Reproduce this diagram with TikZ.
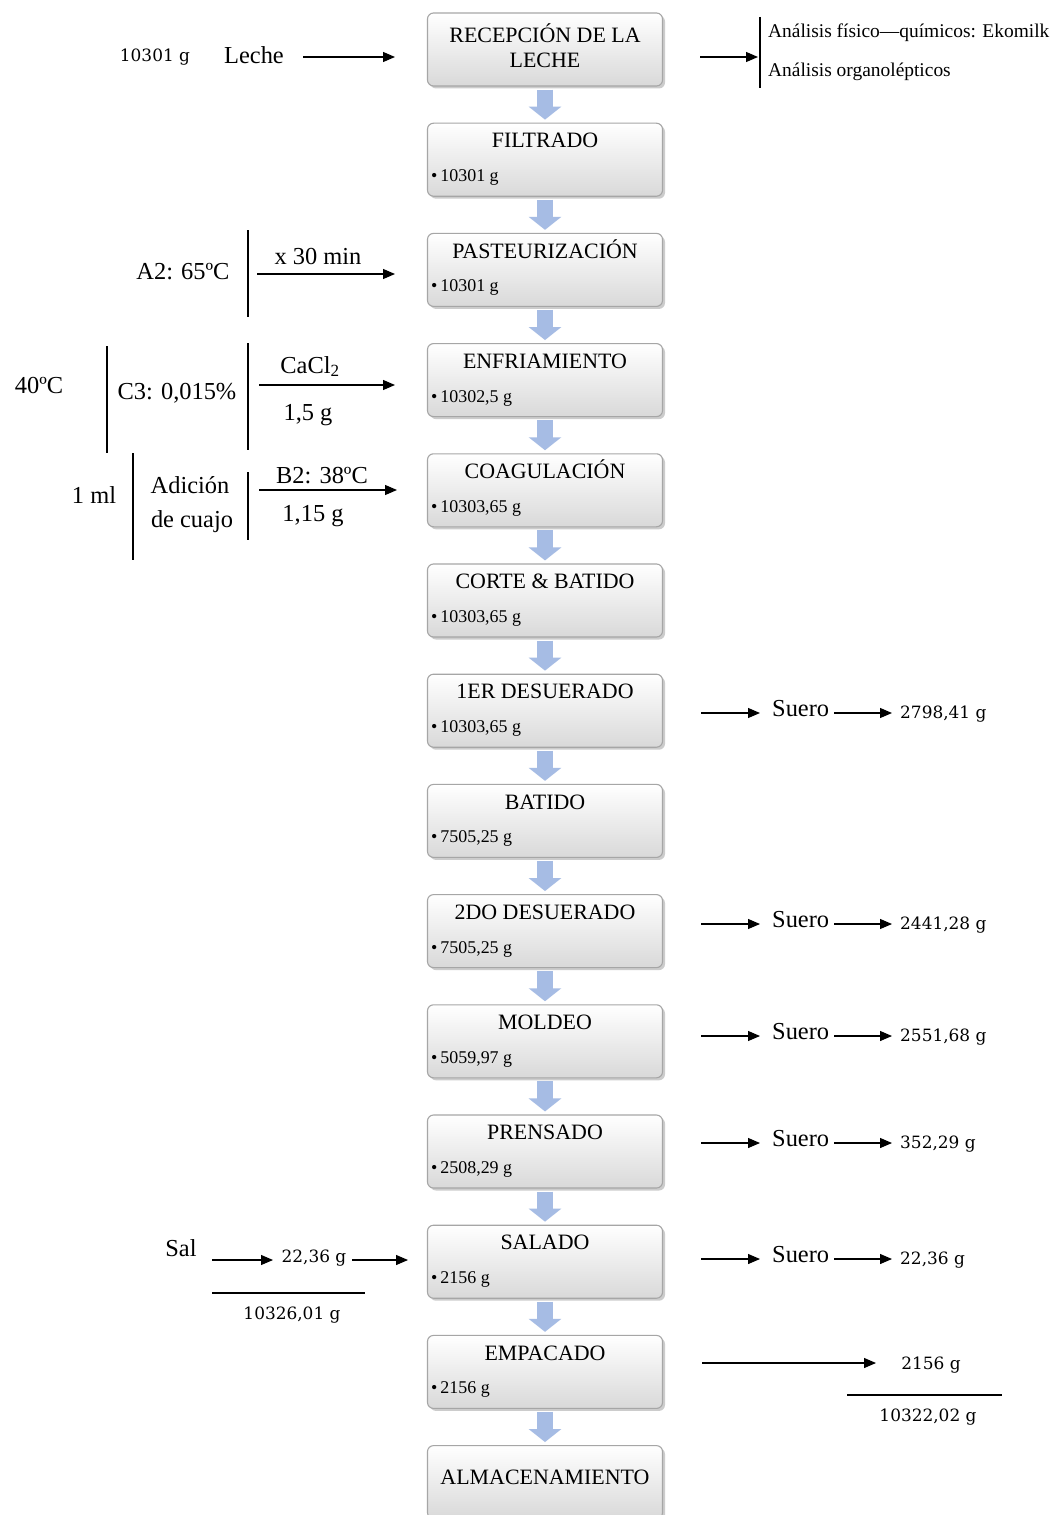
\documentclass[tikz,border=0pt]{standalone}
\usepackage{fontspec}
\setmainfont{Liberation Serif}
\newfontfamily\numfont{DejaVu Serif}
\usetikzlibrary{arrows.meta,calc,shadows}
\definecolor{arrowblue}{RGB}{166,188,228}
\newcommand\hconn[4]{\coordinate (#1a) at (#2,#4); \coordinate (#1b) at (#3,#4); \draw[arr] (#1a) -- (#1b);}
\begin{document}
\begin{tikzpicture}[x=1bp,y=-1bp,
  procbox/.style={rectangle, rounded corners=6bp, minimum width=235bp, minimum height=73bp, draw=gray!70, line width=1.1bp, top color=white, bottom color=gray!30, drop shadow={shadow xshift=2.5bp, shadow yshift=-2.5bp, opacity=0.4}},
  title/.style={inner sep=0pt, font=\fontsize{22}{25}\selectfont, text height=15bp, text depth=4.5bp},
  bul/.style={inner sep=0pt, anchor=west, font=\fontsize{18}{20}\selectfont, text height=12bp, text depth=4bp},
  lab/.style={inner sep=0pt, font=\fontsize{24.5}{27}\selectfont, text height=17bp, text depth=5bp},
  num/.style={inner sep=0pt, font=\numfont\fontsize{17}{19}\selectfont, text height=12.5bp, text depth=3.5bp},
  small/.style={inner sep=0pt, anchor=west, font=\fontsize{19.5}{22}\selectfont, text height=13.5bp, text depth=4bp},
  arr/.style={line width=1.2bp, -{Triangle[length=12bp,width=10bp]}},
  bar/.style={line width=1.3bp},
  flow/.style={line width=16bp, arrowblue, -{Triangle[length=13bp,width=32bp]}, shorten <=3bp, shorten >=3bp}
]
\fill[white] (0,0) rectangle (1053,1515);
\useasboundingbox (0,0) rectangle (1053,1515);

% process boxes
\node[procbox] (p0) at (545,49.5) {};
\node[title] (t0a) at (545,37) {RECEPCIÓN DE LA};
\node[title] (t0b) at (545,62) {LECHE};
\foreach \k/\t/\w in {1/FILTRADO/{10301 g}, 2/PASTEURIZACIÓN/{10301 g}, 3/ENFRIAMIENTO/{10302,5 g},
  4/COAGULACIÓN/{10303,65 g}, 5/CORTE \& BATIDO/{10303,65 g}, 6/1ER DESUERADO/{10303,65 g},
  7/BATIDO/{7505,25 g}, 8/2DO DESUERADO/{7505,25 g}, 9/MOLDEO/{5059,97 g}, 10/PRENSADO/{2508,29 g},
  11/SALADO/{2156 g}, 12/EMPACADO/{2156 g}}{
  \node[procbox] (p\k) at (545, 13+110.2*\k+36.5) {};
  \node[title] (t\k) at ($(p\k.north)+(0,20)$) {\t};
  \node[bul] (w\k) at ($(p\k.north west)+(4,55)$) {•\,\w};
}
\node[procbox] (p13) at (545, 13+110.2*13+36.5) {};
\node[title] (t13) at ($(p13.center)+(0,-3)$) {ALMACENAMIENTO};

\foreach \k in {0,...,12}{
  \pgfmathtruncatemacro\n{\k+1}
  \draw[flow] (p\k.south) -- (p\n.north);
}

% top row
\node[num] (m0) at (155,57) {10301 g};
\node[lab] (leche) at (254,58) {Leche};
\hconn{la}{303}{395}{57}
\hconn{ra}{700}{758}{57}
\draw[bar] (760,17) -- (760,88);
\node[small] (an1) at (768,33) {Análisis físico—químicos: Ekomilk};
\node[small] (an2) at (768,72) {Análisis organolépticos};

% pasteurizacion
\node[lab] (a2) at (183,273) {A2: 65ºC};
\draw[bar] (248,230) -- (248,317);
\node[lab] (x30) at (318,258) {x 30 min};
\hconn{pa}{257}{395}{274}

% enfriamiento
\node[lab] (t40) at (39,387) {40ºC};
\draw[bar] (107,346) -- (107,453);
\node[lab] (c3) at (177,393) {C3: 0,015\%};
\draw[bar] (248,343) -- (248,450);
\node[lab] (cacl) at (310,367) {CaCl\textsubscript{2}};
\hconn{ea}{259}{395}{385}
\node[lab] (g15) at (308,414) {1,5 g};

% coagulacion
\node[lab] (ml) at (94,497) {1 ml};
\draw[bar] (133,453) -- (133,560);
\node[lab] (adi) at (190,487) {Adición};
\node[lab] (cua) at (192,521) {de cuajo};
\draw[bar] (248,472) -- (248,540);
\node[lab] (b2t) at (322,477) {B2: 38ºC};
\hconn{ca}{259}{397}{490}
\node[lab] (g115) at (313,515) {1,15 g};

% suero rows
\foreach \k/\y/\v in {6/713/{2798,41 g}, 8/924/{2441,28 g}, 9/1036/{2551,68 g}, 10/1143/{352,29 g}, 11/1259/{22,36 g}}{
  \hconn{sa\k}{701}{760}{\y}
  \node[lab, anchor=west] (su\k) at (772,\y-3) {Suero};
  \hconn{sb\k}{834}{892}{\y}
  \node[num, anchor=west] (sv\k) at (900,\y+1) {\v};
}

% salado left
\node[lab] (sal) at (181,1250) {Sal};
\hconn{sl1}{212}{273}{1260}
\node[num] (sal1) at (314,1258) {22,36 g};
\hconn{sl2}{352}{408}{1260}
\draw[line width=1.1bp] (212,1293) -- (365,1293);
\node[num] (tot1) at (292,1315) {10326,01 g};

% empacado right
\hconn{em}{702}{876}{1363}
\node[num] (emp) at (931,1365) {2156 g};
\draw[line width=1.1bp] (847,1395) -- (1002,1395);
\node[num] (tot2) at (928,1417) {10322,02 g};
\end{tikzpicture}
\end{document}
